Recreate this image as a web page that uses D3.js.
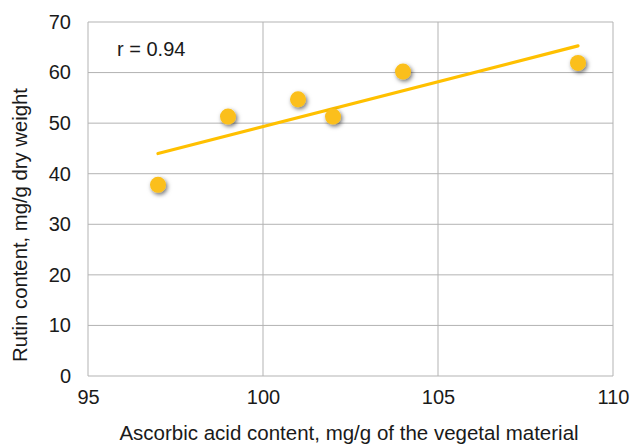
<!DOCTYPE html>
<html>
<head>
<meta charset="utf-8">
<script src="https://cdn.jsdelivr.net/npm/d3@7"></script>
<style>
  body { margin: 0; background: #fff; }
  text { font-family: "Liberation Sans", Arial, sans-serif; fill: #1a1a1a; }
</style>
</head>
<body>
<div id="chart"></div>
<script>
// data
var ascorbic = [97, 99, 101, 102, 104, 109];
var rutin = [37.8, 51.3, 54.7, 51.3, 60.2, 61.9];
var xTicks = [95, 100, 105, 110];
var yTicks = [0, 10, 20, 30, 40, 50, 60, 70];
var rLabel = 'r = 0.94';

var W = 634, H = 447;
var margin = {top: 22, right: 21, bottom: 71, left: 88};
var width = W - margin.left - margin.right,
    height = H - margin.top - margin.bottom;

const svg = d3.select('#chart')
    .append('svg')
    .attr('width', W)
    .attr('height', H);

var defs = svg.append('defs');
defs.append('filter')
    .attr('id', 'shadow')
    .attr('x', '-50%').attr('y', '-50%')
    .attr('width', '200%').attr('height', '200%')
    .append('feDropShadow')
    .attr('dx', 1.5).attr('dy', 2)
    .attr('stdDeviation', 2)
    .attr('flood-color', '#000')
    .attr('flood-opacity', 0.55);

const g = svg.append('g')
    .attr('transform', 'translate(' + margin.left + ',' + margin.top + ')');

var x = d3.scaleLinear().domain([95, 110]).range([0, width]);
var y = d3.scaleLinear().domain([0, 70]).range([height, 0]);

// grid
g.selectAll('.hgrid').data(yTicks).enter().append('line')
    .attr('x1', 0).attr('x2', width)
    .attr('y1', d => y(d)).attr('y2', d => y(d))
    .attr('stroke', '#b3b3b3').attr('stroke-width', 1);
g.selectAll('.vgrid').data(xTicks).enter().append('line')
    .attr('y1', 0).attr('y2', height)
    .attr('x1', d => x(d)).attr('x2', d => x(d))
    .attr('stroke', '#b3b3b3').attr('stroke-width', 1);

// tick labels
var xAxis = g.append('g')
    .attr('transform', 'translate(0,' + height + ')')
    .call(d3.axisBottom(x).tickValues(xTicks).tickSize(0).tickPadding(14));
var yAxis = g.append('g')
    .call(d3.axisLeft(y).tickValues(yTicks).tickSize(0).tickPadding(17));
[xAxis, yAxis].forEach(a => {
    a.select('.domain').remove();
    a.selectAll('text')
        .style('font-size', '20px')
        .style('font-family', '"Liberation Sans", Arial, sans-serif')
        .attr('fill', '#1a1a1a');
});

// trend line (least squares on the points)
var mx = d3.mean(ascorbic), my = d3.mean(rutin);
var sxy = d3.sum(ascorbic, (d, i) => (d - mx) * (rutin[i] - my));
var sxx = d3.sum(ascorbic, d => (d - mx) * (d - mx));
var slope = sxy / sxx, icpt = my - slope * mx;
var xr = d3.extent(ascorbic);
g.append('line')
    .attr('x1', x(xr[0])).attr('y1', y(slope * xr[0] + icpt))
    .attr('x2', x(xr[1])).attr('y2', y(slope * xr[1] + icpt))
    .attr('stroke', '#ffc000').attr('stroke-width', 3.2)
    .attr('stroke-linecap', 'round');

// points
g.selectAll('circle').data(ascorbic).enter().append('circle')
    .attr('cx', d => x(d))
    .attr('cy', (d, i) => y(rutin[i]))
    .attr('r', 8)
    .attr('fill', '#fbbf1a')
    .attr('filter', 'url(#shadow)');

g.append('text')
    .attr('x', 29).attr('y', 34)
    .style('font-size', '20px')
    .text(rLabel);

// axis titles
svg.append('text')
    .attr('x', 349)
    .attr('y', 440)
    .attr('text-anchor', 'middle')
    .style('font-size', '20.5px')
    .text('Ascorbic acid content, mg/g of the vegetal material');

svg.append('text')
    .attr('transform', 'translate(27,225) rotate(-90)')
    .attr('text-anchor', 'middle')
    .style('font-size', '20.3px')
    .text('Rutin content, mg/g dry weight');
</script>
</body>
</html>
